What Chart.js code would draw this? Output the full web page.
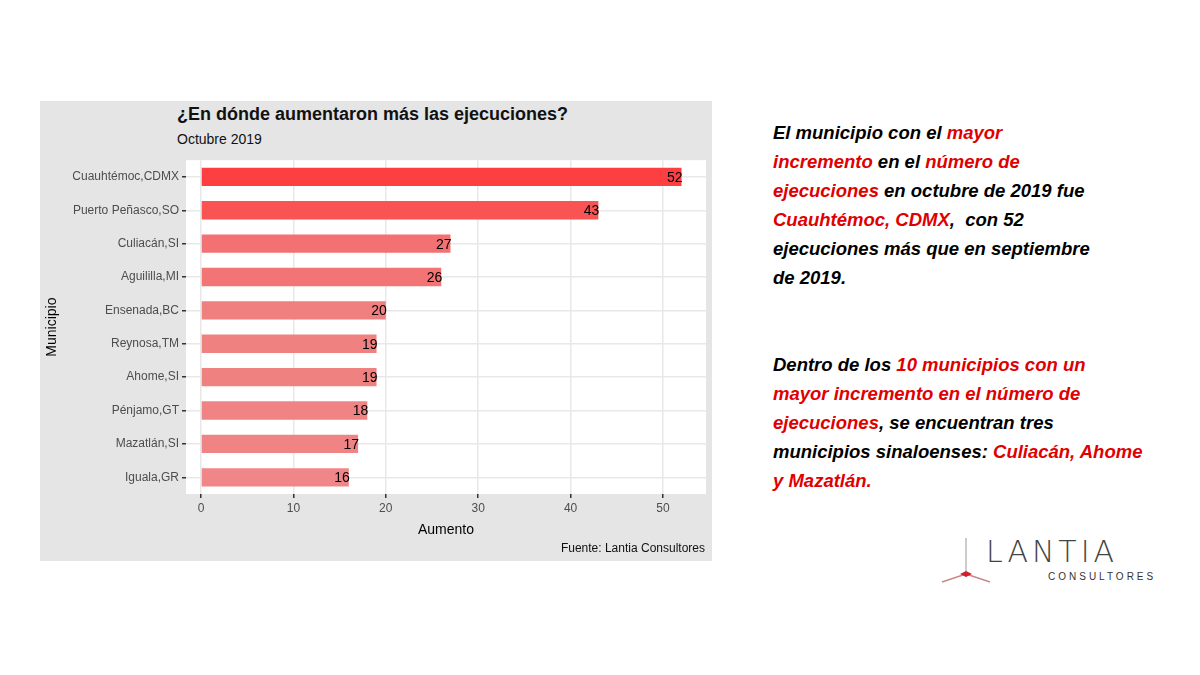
<!DOCTYPE html>
<html><head><meta charset="utf-8">
<script src="https://cdn.jsdelivr.net/npm/chart.js@4"></script>
<style>
body{margin:0;width:1200px;height:675px;background:#fff;position:relative;font-family:"Liberation Sans",Arial,sans-serif;overflow:hidden}
#panel{position:absolute;left:40px;top:101px;width:672px;height:460px;background:#e5e5e5}
#t{position:absolute;left:137px;top:3px;font-size:18px;font-weight:bold;color:#111}
#st{position:absolute;left:137px;top:30px;font-size:14px;color:#111}
#src{position:absolute;right:7px;top:440px;font-size:12px;color:#111}
#wrap{position:absolute;left:0;top:49px;width:672px;height:395px}
#txt{position:absolute;left:773px;top:118px;width:400px;font-size:18.5px;font-weight:bold;font-style:italic;line-height:29px;color:#000}
.r{color:#e00000}
#logo{position:absolute;left:940px;top:536px}
</style></head><body>
<div id="panel">
<div id="t">¿En dónde aumentaron más las ejecuciones?</div>
<div id="st">Octubre 2019</div>
<div id="wrap"><canvas id="c"></canvas></div>
<div id="src">Fuente: Lantia Consultores</div>
</div>
<div id="txt">El municipio con el <span class="r">mayor<br>incremento</span> en el <span class="r">número de<br>ejecuciones</span> en octubre de 2019 fue<br><span class="r">Cuauhtémoc, CDMX</span>, &nbsp;con 52<br>ejecuciones más que en septiembre<br>de 2019.<br><br><br>Dentro de los <span class="r">10 municipios con un<br>mayor incremento en el número de<br>ejecuciones</span>, se encuentran tres<br>municipios sinaloenses: <span class="r">Culiacán, Ahome<br>y Mazatlán.</span></div>
<div id="logo">
<svg width="230" height="50">
<line x1="26" y1="2" x2="26" y2="38" stroke="#999" stroke-width="1"/>
<path d="M26 38 L2 46 M26 38 L50 46" stroke="#c88" stroke-width="1.5" fill="none"/>
<path d="M20 38 L26 35 L32 38 L26 41 Z" fill="#d02030"/>
<text x="46" y="26" font-family="DejaVu Sans" font-size="30" font-weight="200" letter-spacing="4" fill="#444">LANTIA</text>
<text x="108" y="44" font-family="Liberation Sans" font-size="10" letter-spacing="3" fill="#333">CONSULTORES</text>
</svg>
</div>
<script>
const categories=["Cuauhtémoc,CDMX","Puerto Peñasco,SO","Culiacán,SI","Aguililla,MI","Ensenada,BC","Reynosa,TM","Ahome,SI","Pénjamo,GT","Mazatlán,SI","Iguala,GR"];
const values=[52,43,27,26,20,19,19,18,17,16];
const colors=["#fd3f41","#f95353","#f37172","#f27475","#f07f7f","#f08181","#f08181","#f08384","#f08485","#f08687"];
const xTicks=[0,10,20,30,40,50];
const bgPlugin={id:'bg',beforeDraw(ch){const a=ch.chartArea,ctx=ch.ctx;ctx.save();ctx.fillStyle='#fff';ctx.fillRect(a.left,a.top,a.right-a.left,a.bottom-a.top);ctx.restore();}};
const labelPlugin={id:'lbl',afterDatasetsDraw(ch){const ctx=ch.ctx;const m=ch.getDatasetMeta(0);ctx.save();ctx.font='14px "Liberation Sans",Arial';ctx.fillStyle='#000';ctx.textAlign='right';ctx.textBaseline='middle';m.data.forEach((b,i)=>{ctx.fillText(values[i],b.x+1,b.y+1);});ctx.restore();}};
new Chart(document.getElementById('c'),{type:'bar',data:{labels:categories,datasets:[{data:values,backgroundColor:colors,barPercentage:0.55,categoryPercentage:1}]},
options:{indexAxis:'y',responsive:true,maintainAspectRatio:false,animation:false,
layout:{padding:{top:7,right:6,left:0,bottom:0}},
plugins:{legend:{display:false},tooltip:{enabled:false}},
scales:{
x:{type:'linear',min:-1.62,max:54.65,afterBuildTicks(s){s.ticks=xTicks.map(v=>({value:v}));},afterFit(s){s.height=51;},
grid:{color:'#e8e8e8',lineWidth:1.5,tickColor:'#333',tickLength:4},border:{display:false},
ticks:{color:'#4d4d4d',font:{size:12,family:'Liberation Sans'},padding:3},
title:{display:true,text:'Aumento',color:'#000',font:{size:14,family:'Liberation Sans'},padding:{top:0,bottom:6}}},
y:{afterFit(s){s.width=146;},grid:{offset:false,color:'#e8e8e8',lineWidth:1.5,tickColor:'#333',tickLength:4},border:{display:false},
ticks:{color:'#4d4d4d',font:{size:12,family:'Liberation Sans'},padding:3},
title:{display:true,text:'Municipio',color:'#000',font:{size:14,family:'Liberation Sans'},padding:{bottom:0}}}}},
plugins:[bgPlugin,labelPlugin]});
</script>
</body></html>
